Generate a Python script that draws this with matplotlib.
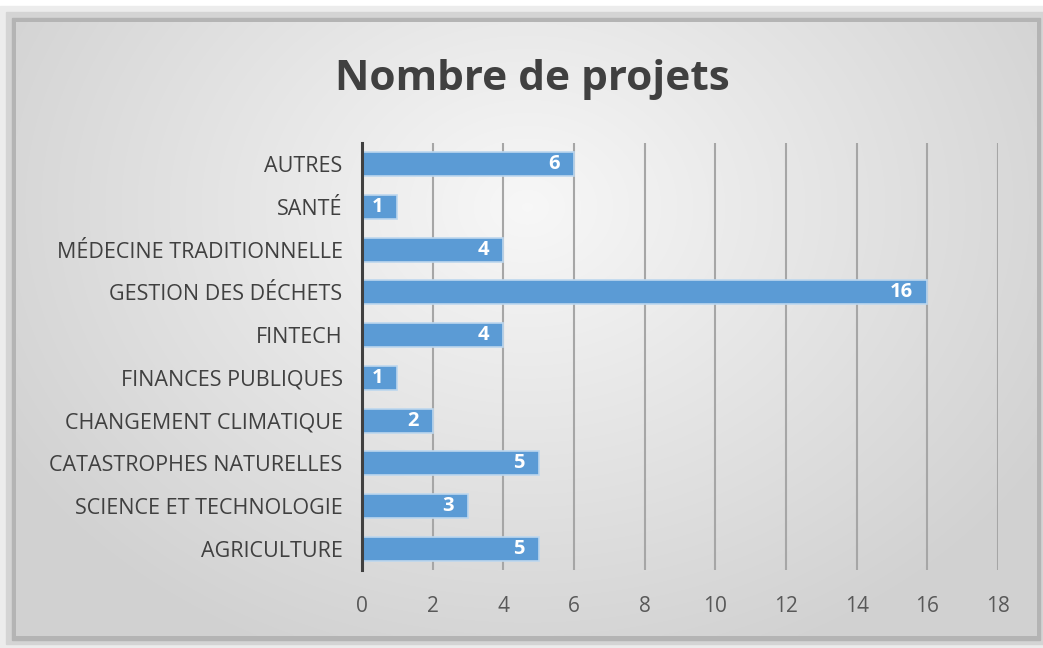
import matplotlib
matplotlib.use("Agg")
import matplotlib.pyplot as plt
import numpy as np
from matplotlib.patches import Rectangle

categories = ["AGRICULTURE", "SCIENCE ET TECHNOLOGIE", "CATASTROPHES NATURELLES",
              "CHANGEMENT CLIMATIQUE", "FINANCES PUBLIQUES", "FINTECH",
              "GESTION DES DÉCHETS", "MÉDECINE TRADITIONNELLE", "SANTÉ", "AUTRES"]
values = [5, 3, 5, 2, 1, 4, 16, 4, 1, 6]
x_ticks = [0, 2, 4, 6, 8, 10, 12, 14, 16, 18]
title = "Nombre de projets"

plt.rcParams['font.family'] = ['Open Sans', 'DejaVu Sans']

fig = plt.figure(figsize=(10.43, 6.48), dpi=100)
fig.patch.set_facecolor("white")

# background card with gradient
bg = fig.add_axes([0, 0, 1, 1], zorder=-10)
bg.set_xlim(0, 1043); bg.set_ylim(648, 0); bg.axis("off")
# soft shadow
bg.add_patch(Rectangle((0, 6), 1043, 642, color="#ececec", zorder=0))
bg.add_patch(Rectangle((6, 12), 1037, 632, color="#d4d4d4", zorder=0.5))
bg.add_patch(Rectangle((12, 18), 1028, 622, color="#b4b4b4", zorder=1))
h, w = 300, 500
yy, xx = np.mgrid[0:h, 0:w]
r = np.sqrt(((xx - w * 0.5) / (w * 0.6)) ** 2 + ((yy - h * 0.3) / (h * 0.8)) ** 2)
grad = np.clip(1 - r, 0, 1)
lo = np.array([0.82, 0.82, 0.82]); hi = np.array([0.97, 0.97, 0.97])
img = lo + (hi - lo) * grad[..., None]
bg.imshow(img, extent=[16, 1037, 636, 22], aspect="auto", zorder=2, interpolation="bilinear")

ax = fig.add_axes([362 / 1043, 1 - 570 / 648, (998 - 362) / 1043, (570 - 143) / 648])
ax.set_facecolor("none")
y = np.arange(len(categories))
bars = ax.barh(y, values, height=0.56, color="#5b9bd5", edgecolor="#bdd7ee", linewidth=1.2, zorder=3)
for yi, v in zip(y, values):
    ax.text(v - 0.4, yi, str(v), ha="right", va="center", color="white",
            fontsize=14.5, fontweight="bold", zorder=4)

ax.set_xlim(0, 18)
ax.set_ylim(-0.5, len(categories) - 0.5)
ax.set_xticks(x_ticks)
ax.set_xticklabels([str(t) for t in x_ticks], fontsize=15, color="#595959")
ax.set_yticks(y)
ax.set_yticklabels(categories, fontsize=15.5, color="#404040")
ax.tick_params(axis="both", length=0)
ax.tick_params(axis="y", pad=14)
ax.tick_params(axis="x", pad=19)
ax.grid(axis="x", color="#a6a6a6", linewidth=1.5, zorder=0)
for s in ["top", "right", "bottom"]:
    ax.spines[s].set_visible(False)
ax.spines["left"].set_color("#404040")
ax.spines["left"].set_linewidth(2.2)
ax.spines["left"].set_zorder(5)

fig.text(532 / 1043, 1 - 80 / 648, title, ha="center", va="center",
         fontsize=30.5, fontweight="bold", color="#404040")

fig.savefig("out.png", dpi=100)
